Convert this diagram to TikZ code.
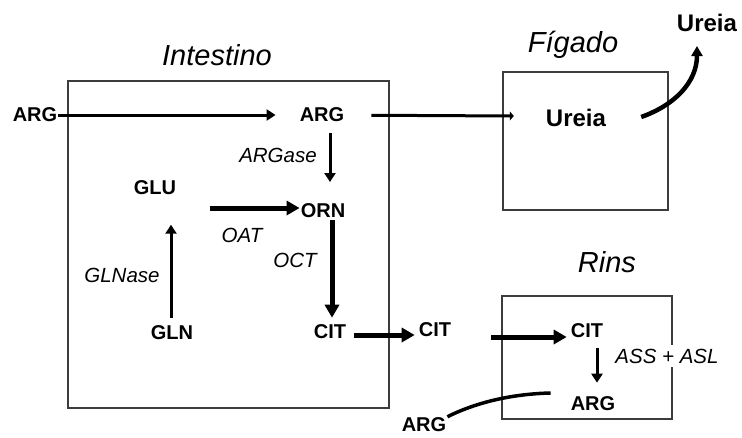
\documentclass[tikz,border=0pt]{standalone}
\usepackage{fontspec}
\setmainfont{Liberation Sans}
\usepackage{tikz}
\usepackage{xcolor}
\usetikzlibrary{arrows.meta,positioning,calc}
\definecolor{boxGray}{RGB}{60,60,60}
\tikzset{
  organbox/.style={draw=boxGray, line width=2.4pt, inner sep=0pt},
  organ/.style={font=\fontsize{29}{31}\selectfont\itshape, inner sep=1pt},
  met/.style={font=\fontsize{20}{22}\selectfont\bfseries, inner sep=1pt},
  urea/.style={font=\fontsize{24}{26}\selectfont\bfseries, inner sep=1pt},
  enz/.style={font=\fontsize{20.5}{22}\selectfont\itshape, inner sep=1pt},
  arrow/.style={-{Triangle[length=9pt,width=11pt]}, line width=3pt},
  bigarrow/.style={-{Triangle[length=13pt,width=14pt]}, line width=5pt},
  smallarrow/.style={-{Triangle[length=4pt,width=9pt]}, line width=3pt}
}

\begin{document}
\begin{tikzpicture}[x=1pt,y=-1pt]
  \useasboundingbox (0,0) rectangle (742,437);

  % Organ boxes
  \node[organbox, minimum width=321pt, minimum height=327pt] (intbox) at (228.5,244.5) {};
  \node[organbox, minimum width=165pt, minimum height=138pt] (figbox) at (585.5,141) {};
  \node[organbox, minimum width=170pt, minimum height=123pt] (rinbox) at (587,357.5) {};

  % Organ titles
  \node[organ] (tint) at (217,55) {Intestino};
  \node[organ] (tfig) at (573,45) {Fígado};
  \node[organ] (trin) at (607,262) {Rins};

  % Metabolites
  \node[met] (argin) at (35,115) {ARG};
  \node[met] (argint) at (322,115) {ARG};
  \node[met] (glu) at (155,188) {GLU};
  \node[met] (orn) at (323,211) {ORN};
  \node[met] (gln) at (172,333) {GLN};
  \node[met] (citint) at (330,332) {CIT};
  \node[met] (citout) at (435,330) {CIT};
  \node[met] (citrin) at (587,331) {CIT};
  \node[met] (argrin) at (593,404) {ARG};
  \node[met] (argout) at (424,425) {ARG};
  \node[urea] (ureaf) at (576,118) {Ureia};
  \node[urea] (ureaout) at (707,23) {Ureia};

  % Enzymes
  \node[enz] (argase) at (278,155) {ARGase};
  \node[enz] (oat) at (242,235) {OAT};
  \node[enz] (oct) at (295,260) {OCT};
  \node[enz] (glnase) at (122,275) {GLNase};
  \node[enz, fill=white, inner ysep=4pt] (assasl) at (667,356) {ASS + ASL};

  % Intestine arrows
  \draw[arrow, shorten >=23pt] (argin) -- (argint);
  \draw[arrow] ($(argint)+(8,18)$) -- ($(argint)+(8,67)$);
  \draw[bigarrow] ($(orn.west)+(-90,-3)$) -- ($(orn.west)+(0,-3)$);
  \draw[bigarrow] ($(orn.south)+(9,1)$) -- ($(citint.north)+(2,-6)$);
  \draw[arrow] ($(gln.north)+(-1,-7)$) -- ($(gln.north)+(-1,-100)$);

  % Transport between organs
  \draw[smallarrow, shorten <=26pt] (argint) -- ($(figbox.west |- argint)+(12,1)$);
  \draw[bigarrow] ($(citint.east)+(7,3)$) -- ($(citout.west)+(-3,5)$);
  \draw[bigarrow] ($(citout.east)+(39,7)$) -- ($(citrin.west)+(-3,6)$);
  \draw[line width=4.5pt, -{Triangle[length=10pt,width=11pt]}] ($(ureaf.east)+(34,-1)$) .. controls (675,105) and (697,82) .. ($(ureaout.south)+(-10,13)$);

  % Kidney
  \draw[arrow] ($(citrin.south)+(10,9)$) -- ($(argrin.north)+(4,-13)$);
  \draw[line width=3.5pt] (argout.north east) .. controls (475,403) and (510,394) .. ($(argrin.west)+(-19,-11)$);
\end{tikzpicture}
\end{document}
